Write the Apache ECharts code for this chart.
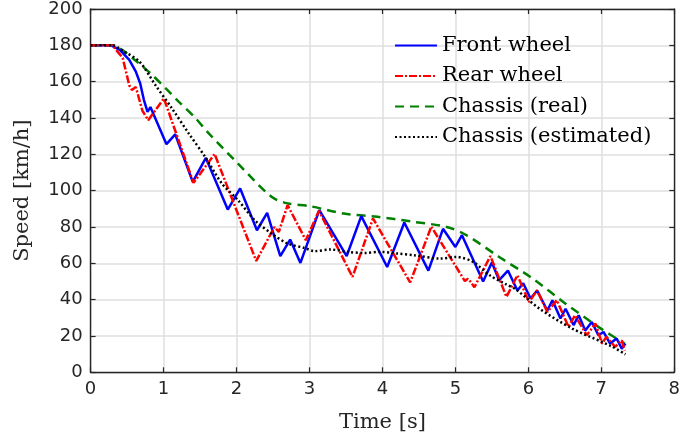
<!DOCTYPE html>
<html>
<head>
<meta charset="utf-8">
<script src="https://cdn.jsdelivr.net/npm/echarts@6/dist/echarts.min.js"></script>
<style>
  html, body { margin: 0; padding: 0; background: #fff; }
  #chart { width: 683px; height: 443px; }
</style>
</head>
<body>
<div id="chart"></div>
<script>
// Braking test: wheel and chassis speeds over time
const xTicks = [0, 1, 2, 3, 4, 5, 6, 7, 8];
const yTicks = [0, 20, 40, 60, 80, 100, 120, 140, 160, 180, 200];

const frontT = [0, 0.28, 0.4, 0.53, 0.62, 0.68, 0.73, 0.78, 0.82, 1.04, 1.16, 1.40, 1.58, 1.88, 2.05, 2.28, 2.42, 2.60, 2.735, 2.876, 3.135, 3.51, 3.71, 4.065, 4.30, 4.63, 4.83, 5.00, 5.09, 5.38, 5.50, 5.60, 5.72, 5.85, 5.93, 6.03, 6.12, 6.26, 6.33, 6.44, 6.51, 6.62, 6.69, 6.78, 6.87, 6.96, 7.03, 7.12, 7.21, 7.28, 7.33];
const frontV = [180, 180, 177.5, 172, 165.5, 159, 150, 143.4, 146, 125.6, 131, 104.8, 118, 89.6, 101.2, 78.2, 87.8, 63.9, 73.1, 60.2, 89.3, 64, 86, 58, 82.5, 56, 79, 69, 75.5, 50, 60.5, 50.7, 56, 45, 49, 40.6, 45, 34, 39.7, 29.6, 35, 26, 31.4, 23, 27.7, 20.4, 22.2, 15.8, 18.6, 13, 15.8];

const rearT = [0, 0.30, 0.44, 0.53, 0.565, 0.62, 0.71, 0.79, 1.005, 1.41, 1.70, 2.27, 2.52, 2.58, 2.70, 2.95, 3.13, 3.59, 3.87, 4.38, 4.67, 5.13, 5.17, 5.21, 5.26, 5.48, 5.70, 5.85, 6.01, 6.12, 6.26, 6.39, 6.55, 6.64, 6.80, 6.92, 7.01, 7.07, 7.19, 7.28, 7.32];
const rearV = [180, 180, 173, 158, 155.4, 157, 144, 138.8, 150.8, 104.3, 120.2, 61.3, 80, 77.3, 92, 72.7, 88.9, 52.5, 84.7, 49.5, 80.2, 50.2, 51.5, 49.8, 46.8, 64, 41.5, 53.4, 38.7, 45.2, 33.2, 39.7, 25, 31.4, 20.4, 26.8, 15.8, 19.5, 14, 17.6, 12];

const realT = [0, 0.3, 0.45, 0.62, 0.82, 1.03, 1.21, 1.44, 1.62, 2.02, 2.48, 2.70, 3.0, 3.47, 3.93, 4.4, 4.88, 5.15, 5.6, 6.06, 6.51, 6.96, 7.32];
const realV = [180, 180, 177, 171.5, 164.6, 156.3, 148.9, 139.8, 131.5, 114.9, 96.6, 93, 91.5, 87.4, 85.6, 83, 80, 75.5, 63.5, 51.6, 37.8, 25, 15.8];

const estT = [0, 0.3, 0.44, 0.67, 0.89, 1.12, 1.345, 1.57, 1.80, 2.02, 2.25, 2.48, 2.70, 2.93, 3.07, 3.29, 3.52, 3.75, 3.97, 4.20, 4.43, 4.79, 5.01, 5.24, 5.47, 5.69, 5.83, 6.15, 6.60, 7.14, 7.33];
const estV = [180, 180, 177, 171, 158, 145, 131.5, 118.6, 103.9, 94.8, 83.7, 76.4, 70.9, 68.5, 66.7, 67.6, 66.3, 65.7, 66.3, 65.4, 64.5, 62.6, 63.5, 60.8, 53.4, 48.5, 45.6, 35.1, 24.1, 14.3, 9.9];

const pairs = (ts, vs) => ts.map((t, i) => [t, vs[i]]);

const axisColor = '#262626';
const gridColor = '#dfdfdf';
const tickFont = { fontFamily: 'DejaVu Sans', fontSize: 18, color: axisColor };
const serif = 'DejaVu Serif';

const chart = echarts.init(document.getElementById('chart'), null, { renderer: 'canvas' });

const hiddenSide = (pos, isX) => ({
  type: 'value',
  position: pos,
  min: isX ? xTicks[0] : yTicks[0],
  max: isX ? xTicks[xTicks.length - 1] : yTicks[yTicks.length - 1],
  interval: isX ? 1 : 20,
  axisLine: { show: true, onZero: false, lineStyle: { color: axisColor, width: 1.4 } },
  axisTick: { show: true, inside: true, length: 5, lineStyle: { color: axisColor, width: 1.2 } },
  axisLabel: { show: false },
  splitLine: { show: false }
});

chart.setOption({
  animation: false,
  backgroundColor: '#ffffff',
  grid: { left: 90.6, right: 3.7, top: 8.3, bottom: 70.7, containLabel: false },
  legend: {
    orient: 'vertical',
    left: 389,
    top: 30,
    itemWidth: 42,
    itemHeight: 20,
    itemGap: 9.5,
    itemStyle: { opacity: 0 },
    textStyle: { fontFamily: serif, fontSize: 21, color: '#000' },
    data: ['Front wheel', 'Rear wheel', 'Chassis (real)', 'Chassis (estimated)']
  },
  xAxis: [
    {
      type: 'value',
      min: xTicks[0],
      max: xTicks[xTicks.length - 1],
      interval: 1,
      name: 'Time [s]',
      nameLocation: 'middle',
      nameGap: 40,
      nameTextStyle: { fontFamily: serif, fontSize: 21, color: axisColor },
      axisLine: { show: true, onZero: false, lineStyle: { color: axisColor, width: 1.4 } },
      axisTick: { show: true, inside: true, length: 5, lineStyle: { color: axisColor, width: 1.2 } },
      axisLabel: Object.assign({ margin: 8 }, tickFont),
      splitLine: { show: true, lineStyle: { color: gridColor, width: 1.5 } }
    },
    hiddenSide('top', true)
  ],
  yAxis: [
    {
      type: 'value',
      min: yTicks[0],
      max: yTicks[yTicks.length - 1],
      interval: 20,
      name: 'Speed [km/h]',
      nameLocation: 'middle',
      nameGap: 58,
      nameRotate: 90,
      nameTextStyle: { fontFamily: serif, fontSize: 21, color: axisColor },
      axisLine: { show: true, onZero: false, lineStyle: { color: axisColor, width: 1.4 } },
      axisTick: { show: true, inside: true, length: 5, lineStyle: { color: axisColor, width: 1.2 } },
      axisLabel: Object.assign({ margin: 8 }, tickFont),
      splitLine: { show: true, lineStyle: { color: gridColor, width: 1.5 } }
    },
    hiddenSide('right', false)
  ],
  series: [
    {
      name: 'Front wheel', type: 'line', showSymbol: false, symbol: 'none',
      data: pairs(frontT, frontV),
      lineStyle: { color: '#0000ff', width: 2.5 },
      itemStyle: { color: '#0000ff' }, z: 4
    },
    {
      name: 'Rear wheel', type: 'line', showSymbol: false, symbol: 'none',
      data: pairs(rearT, rearV),
      lineStyle: { color: '#ff0000', width: 2.5, type: [8, 2, 2, 2] },
      itemStyle: { color: '#ff0000' }, z: 5
    },
    {
      name: 'Chassis (real)', type: 'line', showSymbol: false, symbol: 'none', smooth: 0.3,
      data: pairs(realT, realV),
      lineStyle: { color: '#008000', width: 2.5, type: [9, 6] },
      itemStyle: { color: '#008000' }, z: 3
    },
    {
      name: 'Chassis (estimated)', type: 'line', showSymbol: false, symbol: 'none', smooth: 0.3,
      data: pairs(estT, estV),
      lineStyle: { color: '#000000', width: 2.5, type: [2, 2.5] },
      itemStyle: { color: '#000000' }, z: 6
    }
  ]
});
</script>
</body>
</html>
